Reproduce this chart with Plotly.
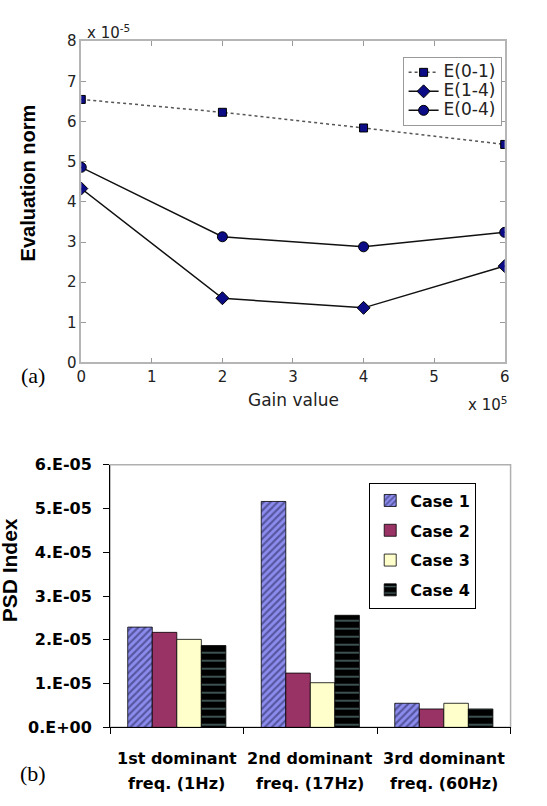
import plotly.graph_objects as go

# ---------------- data: panel (a) ----------------
gain = [0, 2e5, 4e5, 6e5]
e01 = [6.55e-5, 6.23e-5, 5.84e-5, 5.43e-5]
e14 = [4.33e-5, 1.60e-5, 1.36e-5, 2.40e-5]
e04 = [4.86e-5, 3.13e-5, 2.88e-5, 3.24e-5]
series_names = ["E(0-1)", "E(1-4)", "E(0-4)"]
gain_ticks = [0, 1e5, 2e5, 3e5, 4e5, 5e5, 6e5]
gain_ticktext = ["0", "1", "2", "3", "4", "5", "6"]
norm_ticks = [0, 1e-5, 2e-5, 3e-5, 4e-5, 5e-5, 6e-5, 7e-5, 8e-5]
norm_ticktext = ["0", "1", "2", "3", "4", "5", "6", "7", "8"]

# ---------------- data: panel (b) ----------------
categories = ["1st dominant\nfreq. (1Hz)", "2nd dominant\nfreq. (17Hz)", "3rd dominant\nfreq. (60Hz)"]
case_names = ["Case 1", "Case 2", "Case 3", "Case 4"]
case1 = [2.29e-5, 5.16e-5, 0.55e-5]
case2 = [2.17e-5, 1.24e-5, 0.42e-5]
case3 = [2.01e-5, 1.02e-5, 0.55e-5]
case4 = [1.87e-5, 2.56e-5, 0.42e-5]
psd_ticks = [0, 1e-5, 2e-5, 3e-5, 4e-5, 5e-5, 6e-5]
psd_ticktext = ["0.E+00", "1.E-05", "2.E-05", "3.E-05", "4.E-05", "5.E-05", "6.E-05"]

W, H = 547, 806
def px(x):
    return x / W
def py(y):
    return 1 - y / H

cat_x = [c.replace("\n", " ") for c in categories]

fig = go.Figure()

navy = "#0c0c86"
line_styles = [
    dict(color="#555555", width=1.5, dash="dot"),
    dict(color="#111111", width=1.5),
    dict(color="#111111", width=1.5),
]
symbols = ["square", "diamond", "circle"]
sizes = [8, 10, 10]
for nm, ys, ls, sym, sz in zip(series_names, [e01, e14, e04], line_styles, symbols, sizes):
    fig.add_trace(go.Scatter(x=gain, y=ys, name="<span style='font-size:17px'>%s</span>" % nm,
                             mode="lines+markers", line=ls,
                             marker=dict(symbol=sym, size=sz, color=navy, line=dict(color="black", width=1)),
                             xaxis="x", yaxis="y", legend="legend"))

bar_styles = [
    dict(color="#8c8cee", pattern=dict(shape="/", fgcolor="#1e1e50", bgcolor="#8c8cee", size=5, solidity=0.42)),
    dict(color="#993366"),
    dict(color="#ffffcc"),
    dict(color="#000000", pattern=dict(shape="-", fgcolor="#99cccc", bgcolor="#000000", size=8, solidity=0.2)),
]
for i, (nm, vals) in enumerate(zip(case_names, [case1, case2, case3, case4])):
    fig.add_trace(go.Bar(x=cat_x, y=vals, name=nm,
                         marker=dict(line=dict(color="black", width=0.8), **bar_styles[i]),
                         xaxis="x2", yaxis="y2", legend="legend2", legendgroup=nm))

tfont = dict(family="DejaVu Sans", size=15, color="#222222")
bfont = dict(family="DejaVu Sans", size=16, color="black", weight="bold")

annotations = [
    dict(text="x 10<sup>-5</sup>", x=px(81), y=py(24), xanchor="left", yanchor="middle", font=tfont),
    dict(text="x 10<sup>5</sup>", x=px(470), y=py(405), xanchor="left", yanchor="middle", font=tfont),
    dict(text="Gain value", x=px(294), y=py(400), xanchor="center", yanchor="middle",
         font=dict(family="DejaVu Sans", size=17, color="#222222")),
    dict(text="Evaluation norm", x=px(23), y=py(178), xanchor="center", yanchor="middle", textangle=-90,
         font=dict(family="Liberation Sans", size=20, color="black", weight="bold")),
    dict(text="(a)", x=px(29), y=py(375), xanchor="center", yanchor="middle",
         font=dict(family="Liberation Serif", size=22, color="black")),
    dict(text="(b)", x=px(29), y=py(783), xanchor="center", yanchor="middle",
         font=dict(family="Liberation Serif", size=22, color="black")),
    dict(text="PSD Index", x=px(5), y=py(575), xanchor="center", yanchor="middle", textangle=-90,
         font=dict(family="Liberation Sans", size=21, color="black", weight="bold")),
]
for c, cx in zip(categories, cat_x):
    l1, l2 = c.split("\n")
    annotations.append(dict(text=l1, x=cx, xref="x2", y=py(768), yref="paper", xanchor="center",
                            yanchor="middle", font=bfont, showarrow=False))
    annotations.append(dict(text=l2, x=cx, xref="x2", y=py(793), yref="paper", xanchor="center",
                            yanchor="middle", font=bfont, showarrow=False))
for a in annotations:
    a.setdefault("xref", "paper")
    a.setdefault("yref", "paper")
    a.setdefault("showarrow", False)

fig.update_layout(
    width=W, height=H, margin=dict(l=0, r=0, t=0, b=0),
    paper_bgcolor="white", plot_bgcolor="white",
    barmode="group", bargap=0.265, bargroupgap=0,
    xaxis=dict(domain=[px(77.7), px(509)], anchor="y", range=[0, 6e5],
               tickvals=gain_ticks, ticktext=gain_ticktext, ticks="inside", ticklen=5,
               tickcolor="#999999", showline=True, linecolor="#b5b5b5", linewidth=1.5,
               mirror="ticks", showgrid=False, zeroline=False, tickfont=tfont),
    yaxis=dict(domain=[py(362), py(33)], anchor="x", range=[0, 8e-5],
               tickvals=norm_ticks, ticktext=norm_ticktext, ticks="inside", ticklen=5,
               tickcolor="#999999", showline=True, linecolor="#b5b5b5", linewidth=1.5,
               mirror="ticks", showgrid=False, zeroline=False, tickfont=tfont),
    xaxis2=dict(domain=[px(107), px(515)], anchor="y2", type="category",
                tickson="boundaries", ticks="outside", ticklen=6, tickcolor="black",
                showline=True, linecolor="black", linewidth=1, showticklabels=False,
                showgrid=False, zeroline=False),
    yaxis2=dict(domain=[py(735.7), py(466.7)], anchor="x2", range=[0, 6e-5],
                tickvals=psd_ticks, ticktext=psd_ticktext, ticks="outside", ticklen=6,
                tickcolor="black", showline=True, linecolor="black", linewidth=1,
                showgrid=False, zeroline=False, tickfont=bfont, ticklabelstandoff=8),
    legend=dict(x=px(405), y=py(49), xanchor="left", yanchor="top", bgcolor="white",
                bordercolor="#9a9a9a", borderwidth=1,
                font=dict(family="DejaVu Sans", size=11, color="#222222")),
    legend2=dict(x=px(371), y=py(485), xanchor="left", yanchor="top", bgcolor="white",
                 bordercolor="black", borderwidth=1, font=bfont, tracegroupgap=6),
    shapes=[dict(type="rect", xref="x2 domain", yref="y2 domain", x0=0, x1=1, y0=0, y1=1,
                 line=dict(color="#b0b0b0", width=1.5), layer="below")],
    annotations=annotations,
    showlegend=True,
)

fig.write_html("out.html")
